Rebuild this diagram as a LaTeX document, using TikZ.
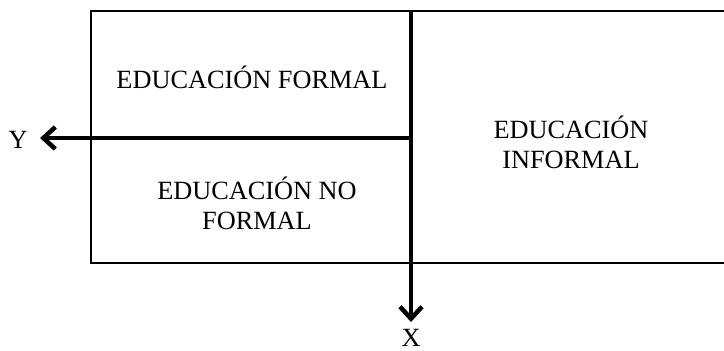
\documentclass[tikz,border=0pt]{standalone}
\usepackage{fontspec}
\setmainfont{Liberation Serif}
\usetikzlibrary{arrows.meta}
\begin{document}
\begin{tikzpicture}[x=1pt,y=-1pt,
  lbl/.style={font=\fontsize{26.3}{30}\selectfont, align=center, inner sep=0pt},
  frame/.style={line width=2.2pt},
  axis/.style={line width=4pt, -{Straight Barb[length=12pt,width=22pt,line width=4.5pt]}}]
\useasboundingbox (0,0) rectangle (724,351);
\draw[frame] (740,11) -- (91,11) -- (91,263) -- (740,263);
\coordinate (top) at (411,11);
\coordinate (xend) at (411,322);
\coordinate (mid) at (411,138);
\coordinate (yend) at (40,138);
\draw[axis] (top) -- (xend);
\draw[axis] (mid) -- (yend);
\node[lbl] (formal) at (252,77) {EDUCACIÓN FORMAL};
\node[lbl] (noformal) at (257,203) {EDUCACIÓN NO\\FORMAL};
\node[lbl] (informal) at (571,142) {EDUCACIÓN\\INFORMAL};
\node[lbl] (ylab) at (18,140) {Y};
\node[lbl] (xlab) at (411,338) {X};
\end{tikzpicture}
\end{document}
